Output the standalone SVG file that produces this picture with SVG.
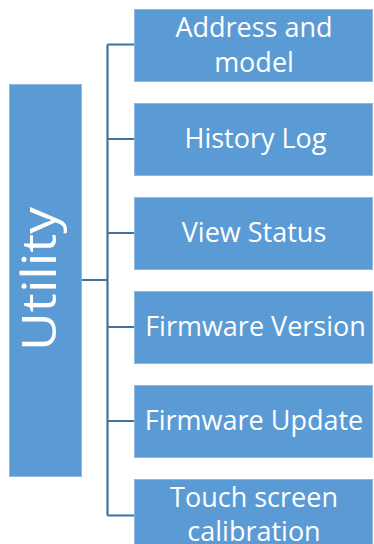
<svg xmlns="http://www.w3.org/2000/svg" width="374" height="544" viewBox="0 0 374 544">
<style>
.box{fill:#5B9BD5;stroke:#8FB8E3;stroke-width:1}
.t{font-family:"Open Sans","Noto Sans","Liberation Sans",sans-serif;fill:#ffffff;font-size:27px;text-anchor:middle}
.c{fill:none;stroke:#41719C;stroke-width:2.2}
</style>
<rect width="374" height="544" fill="#ffffff"/>
<g id="connectors">
<path class="c" d="M82,280 H107.5 M107.5,44.5 V515.5 M107.5,44.5 H134 M107.5,139 H134 M107.5,233 H134 M107.5,327 H134 M107.5,421 H134 M107.5,515.5 H134"/>
</g>
<g id="utility">
<rect class="box" x="9.5" y="84.5" width="72" height="392"/>
<text class="t" transform="translate(56,279) rotate(-90)" x="0" y="0" style="font-size:47px" textLength="144" lengthAdjust="spacingAndGlyphs">Utility</text>
</g>
<g id="address">
<rect class="box" x="134.5" y="9.5" width="238" height="72"/>
<text class="t" x="254" y="37">Address and</text>
<text class="t" x="254" y="72">model</text>
</g>
<g id="history">
<rect class="box" x="134.5" y="103.5" width="238" height="72"/>
<text class="t" x="255.5" y="148">History Log</text>
</g>
<g id="status">
<rect class="box" x="134.5" y="197.5" width="238" height="72"/>
<text class="t" x="254" y="242">View Status</text>
</g>
<g id="fwversion">
<rect class="box" x="134.5" y="291.5" width="238" height="72"/>
<text class="t" x="255.5" y="336">Firmware Version</text>
</g>
<g id="fwupdate">
<rect class="box" x="134.5" y="385.5" width="238" height="72"/>
<text class="t" x="254" y="430">Firmware Update</text>
</g>
<g id="touch">
<rect class="box" x="134.5" y="479.5" width="238" height="72"/>
<text class="t" x="254" y="507">Touch screen</text>
<text class="t" x="254" y="541">calibration</text>
</g>
</svg>
